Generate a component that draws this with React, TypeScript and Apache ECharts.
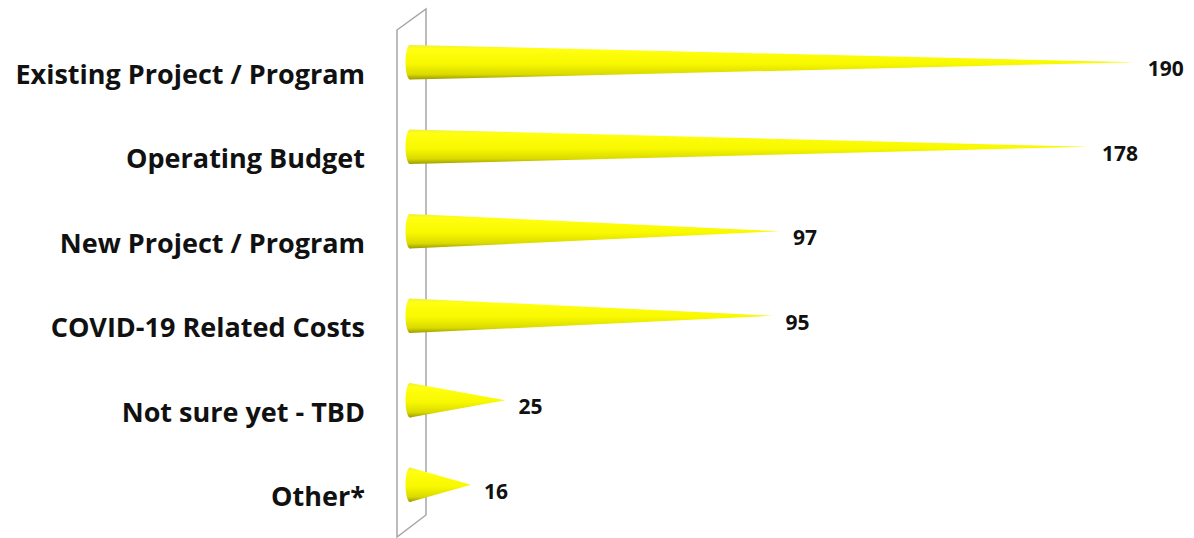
import React, { useEffect, useRef } from "react";
import * as echarts from "echarts";

const categories = [
  "Existing Project / Program",
  "Operating Budget",
  "New Project / Program",
  "COVID-19 Related Costs",
  "Not sure yet - TBD",
  "Other*",
];
const values = [190, 178, 97, 95, 25, 16];

const FONT = "'Open Sans', Lato, sans-serif";

export default function App() {
  const ref = useRef<HTMLDivElement>(null);
  useEffect(() => {
    if (!ref.current) return;
    const chart = echarts.init(ref.current, undefined, { renderer: "svg" });
    const coneGradient = new echarts.graphic.LinearGradient(0, 0, 0, 1, [
      { offset: 0, color: "#eeee40" },
      { offset: 0.12, color: "#ffff10" },
      { offset: 0.55, color: "#f8f800" },
      { offset: 0.85, color: "#dada00" },
      { offset: 1, color: "#9a9a00" },
    ]);
    chart.setOption({
      animation: false,
      backgroundColor: "#ffffff",
      grid: { left: 410, right: 21, top: 31, bottom: 0, containLabel: false },
      xAxis: {
        type: "value",
        min: 0,
        max: 200,
        show: false,
      },
      yAxis: {
        type: "category",
        data: categories,
        inverse: true,
        axisLine: { show: false },
        axisTick: { show: false },
        splitLine: { show: false },
        axisLabel: {
          margin: 45,
          color: "#111111",
          fontFamily: FONT,
          fontWeight: "bold",
          fontSize: 27,
        },
      },
      graphic: [
        {
          type: "polygon",
          z: 0,
          silent: true,
          shape: {
            points: [
              [397, 30],
              [426, 9],
              [426, 515],
              [397, 537],
            ],
          },
          style: { fill: "#ffffff", stroke: "#a6a6a6", lineWidth: 1.5 },
        },
      ],
      series: [
        {
          type: "custom",
          z: 5,
          data: values.map((v, i) => [v, i]),
          encode: { x: 0, y: 1 },
          renderItem: (params: any, api: any) => {
            const v = api.value(0);
            const c = api.value(1);
            const base = api.coord([0, c]);
            const tip = api.coord([v, c]);
            const band = api.size([0, 1])[1];
            const h = band * 0.41;
            const cy = base[1] - 11;
            return {
              type: "group",
              children: [
                {
                  type: "polygon",
                  shape: {
                    points: [
                      [base[0], cy - h / 2],
                      [tip[0], cy],
                      [base[0], cy + h / 2],
                    ],
                  },
                  style: { fill: coneGradient },
                },
                {
                  type: "ellipse",
                  shape: { cx: base[0], cy: cy, rx: 4.5, ry: h / 2 },
                  style: { fill: coneGradient },
                },
                {
                  type: "text",
                  x: tip[0] + 13,
                  y: cy + 6,
                  style: {
                    text: String(v),
                    fill: "#111111",
                    font: `bold 21px ${FONT}`,
                    verticalAlign: "middle",
                    align: "left",
                  },
                },
              ],
            };
          },
        },
      ],
    });
    return () => chart.dispose();
  }, []);
  return (
    <div
      ref={ref}
      style={{ position: "fixed", left: 0, top: 0, width: 1194, height: 538 }}
    />
  );
}
